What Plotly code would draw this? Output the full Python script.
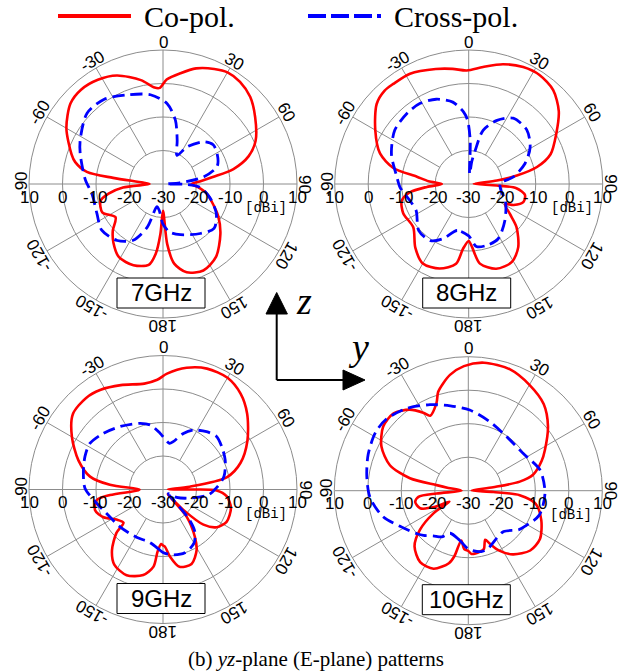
import math
import plotly.graph_objects as go

W, H = 637, 671

# ---------------- data (dBi vs. angle in degrees) ----------------
FREQ_LABELS = ["7GHz", "8GHz", "9GHz", "10GHz"]
ANGLE_TICKS = [0, 30, 60, 90, 120, 150, 180, -150, -120, -90, -60, -30]
RADIAL_LABELS = [10, 0, -10, -20, -30]
GRID_LEVELS = [-20, -10, 0]
R_MIN, R_MAX = -30, 10

TH_CO_7 = [-180, -177, -174, -170, -160, -149, -140, -133, -125, -115, -105, -100, -95, -90, -86, -83, -81, -76, -72,
           -60, -49, -41, -32, -23, -12, -5, -2, 2, 9, 16, 24, 30, 37, 45, 54, 65, 72, 78, 82, 86, 90, 95, 102, 110,
           120, 131, 144, 155, 165, 172, 176, 180]
R_CO_7 = [-22, -15, -9, -5.5, -4.2, -4.5, -7, -9.5, -12.7, -10, -10.7, -13.5, -18, -26, -24, -15, -7, -3, -1.3,
          3.3, 6.6, 7.3, 6.7, 5.2, 1.7, -1.1, -1.3, 1.2, 3.5, 5.9, 7.6, 8.5, 8.2, 6.8, 4, 0.5, -3.1, -8.5, -15, -19,
          -21.5, -19.5, -16.7, -14.5, -11, -7.3, -3.1, -1.5, -2.7, -6, -12, -22]
TH_X_7 = [-180, -172, -165, -160, -152, -141, -127, -114, -98, -87, -70, -62, -47, -35, -22, -8, 3, 11, 18, 26, 33,
          44, 52, 61, 72, 80, 86, 89, 91, 95, 106, 119, 131, 143, 161, 172, 180]
R_X_7 = [-18, -22, -23, -16.3, -11, -8.3, -7.1, -8.4, -8.6, -6.8, -3.7, -2, 1, 0.8, -1.3, -3.1, -6, -10.6, -16.3,
         -20.5, -16.8, -12.5, -11, -11.5, -13, -17.6, -25, -29, -23, -19, -15.5, -11.8, -9.8, -11.5, -14, -15.5, -18]

TH_CO_8 = [-180, -175, -171, -161, -150, -140, -128, -114, -104, -98, -94, -90, -86, -82, -78, -71, -60, -49, -42,
           -37, -28, -16, -8, -1, 7, 16, 25, 33, 42, 51, 60, 70, 76, 80, 83, 88, 93, 95, 101, 108, 115, 119, 126, 132,
           142, 151, 162, 172, 177, 180]
R_CO_8 = [-13, -10.6, -5.9, -3.3, -2.6, -5.2, -9, -8.6, -9.4, -12.3, -17.5, -22, -18, -14.4, -7, -2, 2.2, 6.4, 7.5,
          7.4, 7.3, 5.7, 4.7, 3.9, 5.2, 7.2, 8.5, 8.8, 7.7, 4.6, 0.2, -4, -9, -15.4, -21.5, -28.5, -21.6, -15.7,
          -12.9, -12.8, -15.2, -17.6, -14.8, -10.8, -6, -3.4, -3.4, -6, -11.2, -13]
TH_X_8 = [-180, -166, -155, -146, -133, -117, -106, -93, -84, -69, -54, -41, -31, -21, -11, -4, -1, 2, 5, 8, 11, 15,
          24, 34, 47, 59, 70, 81, 89, 103, 114, 135, 152, 164, 173, 180]
R_X_8 = [-14.5, -15.7, -12, -9.6, -9.6, -12.4, -11.8, -9.5, -8.4, -5.3, -2.7, -2, -1.9, -2.9, -5.1, -8.5, -11, -17,
         -27, -23, -19.8, -13.4, -9.2, -6.3, -6.3, -8.6, -12.1, -16.5, -20.6, -20, -18, -14.7, -11.4, -10.9, -11.2,
         -14.5]

TH_CO_9 = [-180, -178, -175, -173, -167, -157, -147, -140, -133, -130, -123, -115, -107, -99, -96, -92, -90, -85,
           -80, -71, -60, -50, -40, -32, -22, -10, -3, 2, 11, 20, 30, 39, 48, 60, 71, 79, 84, 88, 90, 91, 96, 105,
           117, 125, 131, 135, 136.5, 139, 146, 151, 159, 168, 174, 178, 180]
R_CO_9 = [-13.3, -13.7, -11.4, -6.8, -3.8, -2.2, -3.3, -6.3, -11, -14.6, -13.5, -10.4, -8.8, -10, -14.1, -22.6,
          -23, -14.1, -7.9, -3.3, 1.4, 5.1, 5.7, 5.1, 3.6, 2.1, 2.8, 4.6, 7, 8.4, 8.5, 6.8, 3.8, -0.9, -5.5, -10.5,
          -22, -28.5, -22, -14, -10.9, -9, -8.7, -10.4, -14, -21.4, -28, -19.2, -13, -9.3, -6.2, -6.4, -9.8, -12.9,
          -13.3]
TH_X_9 = [-180, -177, -166, -151, -131, -113, -100, -89, -78, -67, -58, -47, -34, -19, -11, -3, 8, 12, 20, 27, 37,
          45, 54, 65, 78, 88, 97, 110, 120, 128, 134, 137, 139, 143, 150, 161, 172, 180]
R_X_9 = [-11.2, -11.9, -13.7, -13.7, -13, -11.7, -9.4, -6.7, -5.7, -4.7, -4.2, -5.5, -7.3, -9.1, -10.4, -13.2,
         -16.1, -15.4, -12.2, -10.1, -8.4, -7.5, -8.3, -9.5, -11.4, -14, -16.4, -22.4, -25.3, -28, -27, -21.7, -17.9,
         -14.2, -11.5, -10, -10.3, -11.2]

TH_CO_10 = [-180, -176, -172, -168, -165, -156, -146, -136, -129, -123, -120, -116, -110, -102, -97, -95, -90, -82,
            -80, -78, -72, -63, -53, -44, -36, -30, -27, -20, -17, -13, -9, -2, 7, 19, 30, 41, 51, 62, 68, 76, 80,
            82, 87, 93, 95, 101, 112, 124, 134, 145, 153, 158, 161, 165, 169, 177, 180]
R_CO_10 = [-12, -12.5, -15, -10, -7.6, -4.5, -4.3, -6.9, -11.4, -17.6, -23.5, -19, -14.7, -13.8, -15, -20.5, -28,
           -24, -20.4, -12.2, -5.4, -0.9, 1.8, 2.1, -0.1, -3.1, -4.9, -2.2, 0.8, 3, 5, 7.2, 8.5, 8.3, 6.5, 4.3, 0.6,
           -4.1, -6.4, -10, -14.4, -22.5, -29, -22.5, -14.6, -9.5, -6.5, -4.2, -4.3, -6.8, -10, -13, -14.5, -12,
           -11.5, -11.1, -12]
TH_X_10 = [-180, -170, -157, -150, -142, -135, -130, -120, -107, -94, -82, -70, -58, -49, -37, -24, -12, 1, 17, 35,
           56, 74, 92, 109, 122, 128, 139, 149, 161, 168, 180]
R_X_10 = [-12.6, -15, -16.2, -14.1, -12.9, -11.1, -10, -7.7, -3.4, -0.6, 0.6, 1.8, 2.7, 2.5, 0.7, -1.9, -4.1, -5.9,
          -8.4, -10.2, -10.2, -7.7, -7.1, -7.6, -10, -11, -13.9, -13.5, -11.8, -11.4, -12.6]

CO_SERIES = [(TH_CO_7, R_CO_7), (TH_CO_8, R_CO_8), (TH_CO_9, R_CO_9), (TH_CO_10, R_CO_10)]
X_SERIES = [(TH_X_7, R_X_7), (TH_X_8, R_X_8), (TH_X_9, R_X_9), (TH_X_10, R_X_10)]

# ---------------- layout geometry / styles ----------------
CENTERS = [(163, 184), (468.7, 184), (163, 489.5), (468.3, 490.7)]
RADIUS = 134
GRID_COLOR = "#8c8c8c"
RED = "#ff0000"
BLUE = "#0000ff"
SANS = "Liberation Sans, Arial, sans-serif"
SERIF = "Liberation Serif, Times New Roman, serif"
MONO = "Liberation Mono, DejaVu Sans Mono, monospace"


def px(x, y):
    return x / W, 1 - y / H


def rpx(v):
    return (v - R_MIN) / (R_MAX - R_MIN) * RADIUS


fig = go.Figure()
annotations = []
shapes = []
polars = {}

for i, ((cx, cy), label) in enumerate(zip(CENTERS, FREQ_LABELS)):
    key = "polar" if i == 0 else f"polar{i + 1}"

    # spokes (diagonals start at the innermost grid circle)
    sr, st = [], []
    for a in ANGLE_TICKS:
        start = R_MIN if a % 90 == 0 else GRID_LEVELS[0]
        sr += [start, R_MAX, None]
        st += [a, a, None]
    fig.add_trace(go.Scatterpolar(r=sr, theta=st, mode="lines", subplot=key,
                                  line=dict(color=GRID_COLOR, width=1),
                                  hoverinfo="skip", showlegend=False))

    th, rr = CO_SERIES[i]
    fig.add_trace(go.Scatterpolar(r=rr, theta=th, mode="lines", subplot=key, name="Co-pol.",
                                  line=dict(color=RED, width=2.6, shape="spline", smoothing=0.8),
                                  showlegend=False))
    th, rr = X_SERIES[i]
    fig.add_trace(go.Scatterpolar(r=rr, theta=th, mode="lines", subplot=key, name="Cross-pol.",
                                  line=dict(color=BLUE, width=2.8, dash="12px,6px", shape="spline",
                                            smoothing=0.8),
                                  showlegend=False))

    polars[key] = dict(
        domain=dict(x=[(cx - RADIUS) / W, (cx + RADIUS) / W],
                    y=[1 - (cy + RADIUS) / H, 1 - (cy - RADIUS) / H]),
        bgcolor="white",
        radialaxis=dict(range=[R_MIN, R_MAX], tickvals=GRID_LEVELS, showticklabels=False, ticks="",
                        showline=False, gridcolor=GRID_COLOR, gridwidth=1),
        angularaxis=dict(rotation=90, direction="clockwise", showticklabels=False, ticks="",
                         showgrid=False, showline=True, linecolor=GRID_COLOR, linewidth=1),
    )

    # angular tick labels, rotated tangentially
    for a in ANGLE_TICKS:
        t = math.radians(a)
        lx, ly = px(cx + (RADIUS + 8) * math.sin(t), cy - (RADIUS + 8) * math.cos(t))
        annotations.append(dict(x=lx, y=ly, xref="paper", yref="paper", text=str(a), textangle=a,
                                showarrow=False, xanchor="center", yanchor="middle",
                                font=dict(family=SANS, size=17, color="black")))

    # radial tick labels along the horizontal axis
    for v in RADIAL_LABELS:
        xs = [cx - rpx(v)] if v == R_MIN else [cx - rpx(v), cx + rpx(v)]
        for xv in xs:
            lx, ly = px(xv, cy + 13)
            annotations.append(dict(x=lx, y=ly, xref="paper", yref="paper", text=str(v), showarrow=False,
                                    xanchor="center", yanchor="middle",
                                    font=dict(family=SANS, size=17, color="black")))
    lx, ly = px(cx + 103, cy + 24)
    annotations.append(dict(x=lx, y=ly, xref="paper", yref="paper", text="[dBi]", showarrow=False,
                            xanchor="center", yanchor="middle", font=dict(family=MONO, size=14, color="black")))

    # frequency box
    bx0, by0 = px(cx - 46, cy + 124)
    bx1, by1 = px(cx + 42, cy + 94)
    shapes.append(dict(type="rect", xref="paper", yref="paper", x0=bx0, x1=bx1, y0=by0, y1=by1,
                       line=dict(color="black", width=1), fillcolor="white", layer="above"))
    lx, ly = px(cx - 2, cy + 109)
    annotations.append(dict(x=lx, y=ly, xref="paper", yref="paper", text=label, showarrow=False,
                            xanchor="center", yanchor="middle", font=dict(family=SANS, size=24, color="black")))

# ---------------- legend (top) ----------------
lx0, ly = px(58, 16)
lx1, _ = px(131, 16)
shapes.append(dict(type="line", xref="paper", yref="paper", x0=lx0, x1=lx1, y0=ly, y1=ly,
                   line=dict(color=RED, width=4)))
tx, ty = px(142, 17)
annotations.append(dict(x=tx, y=ty, xref="paper", yref="paper", text="Co-pol.", showarrow=False,
                        xanchor="left", yanchor="middle", font=dict(family=SERIF, size=30, color="black")))
lx0, ly = px(308, 16)
lx1, _ = px(381, 16)
shapes.append(dict(type="line", xref="paper", yref="paper", x0=lx0, x1=lx1, y0=ly, y1=ly,
                   line=dict(color=BLUE, width=4, dash="18px,5px")))
tx, ty = px(392, 17)
annotations.append(dict(x=tx, y=ty, xref="paper", yref="paper", text="Cross-pol.", showarrow=False,
                        xanchor="left", yanchor="middle", font=dict(family=SERIF, size=30, color="black")))

# ---------------- coordinate arrows ----------------
ox, oy = 276.7, 380
a0 = px(ox, oy)
a1 = px(ox, 314)
shapes.append(dict(type="line", xref="paper", yref="paper", x0=a0[0], y0=a0[1], x1=a1[0], y1=a1[1],
                   line=dict(color="black", width=2)))
a2 = px(343, oy)
shapes.append(dict(type="line", xref="paper", yref="paper", x0=a0[0], y0=a0[1], x1=a2[0], y1=a2[1],
                   line=dict(color="black", width=2)))


def tri(pts):
    p = [px(x, y) for x, y in pts]
    return "M {} {} L {} {} L {} {} Z".format(p[0][0], p[0][1], p[1][0], p[1][1], p[2][0], p[2][1])


shapes.append(dict(type="path", xref="paper", yref="paper", path=tri([(266, 314), (287.4, 314), (276.7, 292.5)]),
                   fillcolor="black", line=dict(color="black", width=1)))
shapes.append(dict(type="path", xref="paper", yref="paper", path=tri([(343, 370), (343, 390), (365, 380)]),
                   fillcolor="black", line=dict(color="black", width=1)))
zx, zy = px(304, 301)
annotations.append(dict(x=zx, y=zy, xref="paper", yref="paper", text="<i>z</i>", showarrow=False,
                        xanchor="center", yanchor="middle", font=dict(family=SERIF, size=38, color="black")))
yx, yy = px(358, 347)
annotations.append(dict(x=yx, y=yy, xref="paper", yref="paper", text="<i>y</i>", showarrow=False,
                        xanchor="center", yanchor="middle", font=dict(family=SERIF, size=38, color="black")))

# ---------------- caption ----------------
cxp, cyp = px(316, 659)
annotations.append(dict(x=cxp, y=cyp, xref="paper", yref="paper",
                        text="(b) <i>yz</i>-plane (E-plane) patterns", showarrow=False,
                        xanchor="center", yanchor="middle", font=dict(family=SERIF, size=21, color="black")))

fig.update_layout(width=W, height=H, margin=dict(l=0, r=0, t=0, b=0), paper_bgcolor="white",
                  plot_bgcolor="white", showlegend=False, annotations=annotations, shapes=shapes, **polars)

fig.write_html("out.html", config={"displayModeBar": False},
               post_script="document.body.style.margin='0px';")
